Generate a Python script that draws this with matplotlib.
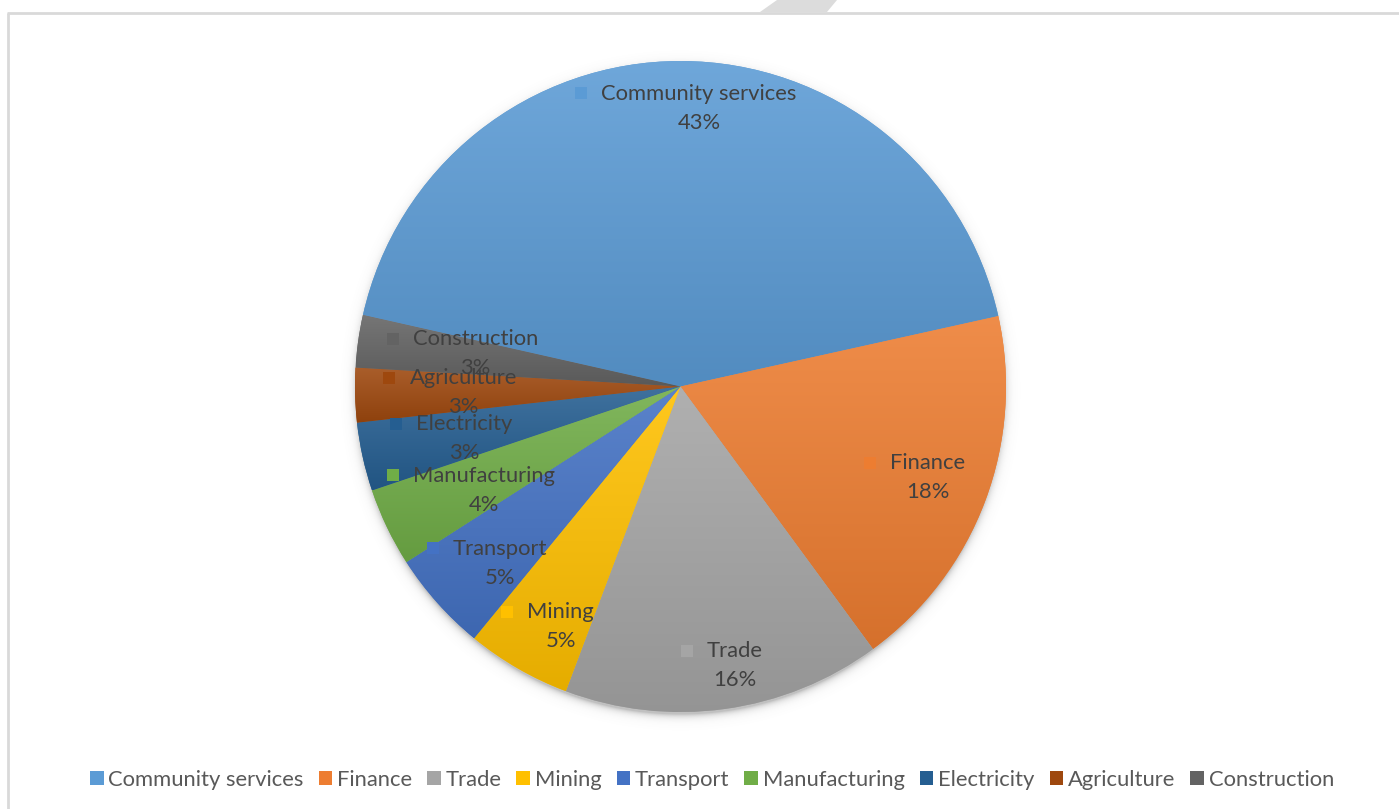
import numpy as np
import matplotlib
matplotlib.use("Agg")
import matplotlib.pyplot as plt
from matplotlib.patches import Rectangle, Polygon, Patch
from matplotlib.colors import to_rgb

# Employment share by sector
sectors = ["Community services", "Finance", "Trade", "Mining", "Transport",
           "Manufacturing", "Electricity", "Agriculture", "Construction"]
shares = [43.0, 18.4, 15.8, 5.2, 5.0, 3.9, 3.4, 2.7, 2.6]
colors = ["#5B9BD5", "#ED7D31", "#A5A5A5", "#FFC000", "#4472C4",
          "#70AD47", "#255E91", "#9E480E", "#636363"]

# data-label placement: fraction of the radius and clockwise nudge (degrees)
label_frac = [0.859, 0.809, 0.873, 0.824, 0.775, 0.681, 0.684, 0.668, 0.639]
label_nudge = [3.7, -0.5, -3.2, -3.4, -2.7, -2.1, -0.9, 0.0, 1.2]

W, H = 1399, 809
FS = 15.8
plt.rcParams["font.family"] = ["Lato", "DejaVu Sans"]
fig = plt.figure(figsize=(W / 100, H / 100), dpi=100)
ax = fig.add_axes([0, 0, 1, 1])

cx, cy, R = 680.5, H - 386.5, 325.5

# soft drop shadow under the pie
yy, xx = np.mgrid[0:H, 0:W]
d = np.hypot(xx + 0.5 - cx, (H - yy - 0.5) - (cy - 4))
alpha = 0.45 * np.exp(-np.clip(d - (R - 2), 0, None) / 3.5)
shadow = np.zeros((H, W, 4))
shadow[..., :3] = 0.45
shadow[..., 3] = alpha
ax.imshow(shadow, extent=(0, W, 0, H), origin="upper", zorder=0.5,
          interpolation="bilinear")

wedges, _ = ax.pie(shares, colors=colors, startangle=167.3, counterclock=False,
                   center=(cx, cy), radius=R, frame=True,
                   wedgeprops=dict(linewidth=0))

# vertical gradient fill for each slice
for w, c in zip(wedges, colors):
    base = np.array(to_rgb(c))
    top = base + (1 - base) * 0.12
    bot = base * 0.90
    ext = w.get_path().get_extents()
    t = np.linspace(0, 1, 256)[:, None]
    grad = top[None, :] * (1 - t) + bot[None, :] * t
    img = np.repeat(grad[:, None, :], 2, axis=1)
    im = ax.imshow(img, extent=(ext.x0, ext.x1, ext.y0, ext.y1), origin="upper",
                   aspect="auto", zorder=1.5, interpolation="bilinear")
    im.set_clip_path(w)

ax.set_xlim(0, W)
ax.set_ylim(0, H)
ax.set_aspect("auto")
ax.axis("off")

# chart-area border and corner tab
ax.plot([7, W], [H - 12.5, H - 12.5], color="#d9d9d9", lw=2, zorder=5,
        solid_capstyle="butt")
ax.plot([8, 8], [0, H - 12.5], color="#d9d9d9", lw=2, zorder=5,
        solid_capstyle="butt")
ax.add_patch(Polygon([(760, H - 12), (777, H), (837, H), (827, H - 12)],
                     closed=True, color="#dcdcdc", lw=0, zorder=5))

total = sum(shares)
name_texts = []
for w, name, v, frac, nudge in zip(wedges, sectors, shares, label_frac,
                                   label_nudge):
    mid = np.deg2rad((w.theta1 + w.theta2) / 2 - nudge)
    lx = cx + frac * R * np.cos(mid)
    ly = cy + frac * R * np.sin(mid)
    tn = ax.text(lx, ly + 14.0, name, ha="center", va="center", fontsize=FS,
                 color="#404040", zorder=6)
    ax.text(lx, ly - 15.0, f"{round(v / total * 100)}%", ha="center",
            va="center", fontsize=FS, color="#404040", zorder=6)
    name_texts.append((tn, w.get_facecolor(), ly + 14.5))

fig.canvas.draw()
renderer = fig.canvas.get_renderer()
inv = ax.transData.inverted()
for tn, fc, ysq in name_texts:
    bb = tn.get_window_extent(renderer)
    (x0, y0), (x1, y1) = inv.transform([[bb.x0, bb.y0], [bb.x1, bb.y1]])
    ax.add_patch(Rectangle((x0 - 26, ysq - 6), 12, 12, facecolor=fc,
                           edgecolor="none", zorder=6))

handles = [Patch(facecolor=c, edgecolor="none") for c in colors]
fig.legend(handles, sectors, loc="center", bbox_to_anchor=(712 / W, 1 - 780 / H),
           ncol=len(sectors), frameon=False, fontsize=FS,
           handlelength=0.62, handleheight=0.62, handletextpad=0.22,
           columnspacing=0.68, labelcolor="#595959", borderpad=0)

fig.savefig("out.png", dpi=100)
